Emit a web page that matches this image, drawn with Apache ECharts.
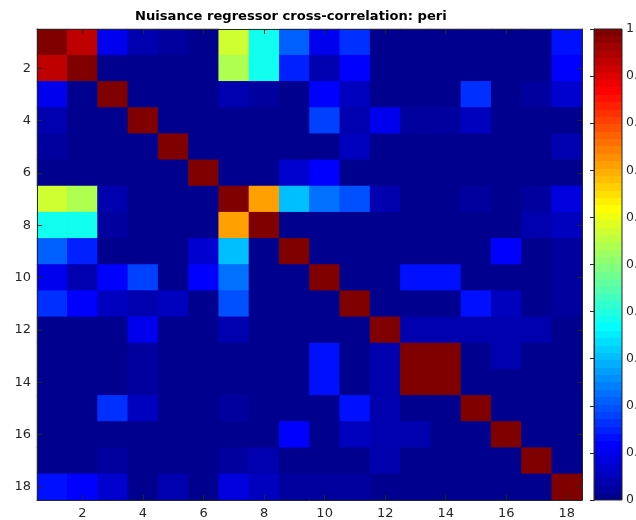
<!DOCTYPE html>
<html>
<head>
<meta charset="utf-8">
<script src="https://cdn.jsdelivr.net/npm/echarts@6/dist/echarts.min.js"></script>
<style>
  html, body { margin: 0; padding: 0; background: #ffffff; }
  #chart { width: 636px; height: 520px; }
</style>
</head>
<body>
<div id="chart"></div>
<script>
// Regressor indices (rows and columns of the matrix)
const regressors = ['1','2','3','4','5','6','7','8','9','10','11','12','13','14','15','16','17','18'];

// Cross-correlation matrix, one row per regressor
const row01 = [1.00, 0.93, 0.10, 0.035, 0.025, 0.012, 0.57, 0.39, 0.21, 0.105, 0.16, 0.01, 0.01, 0.01, 0.01, 0.01, 0.01, 0.13];
const row02 = [0.93, 1.00, 0.01, 0.01, 0.01, 0.01, 0.54, 0.39, 0.15, 0.04, 0.12, 0.01, 0.01, 0.01, 0.01, 0.01, 0.01, 0.12];
const row03 = [0.10, 0.01, 1.00, 0.01, 0.01, 0.01, 0.04, 0.03, 0.01, 0.12, 0.055, 0.01, 0.01, 0.01, 0.165, 0.015, 0.02, 0.075];
const row04 = [0.035, 0.01, 0.01, 1.00, 0.01, 0.01, 0.01, 0.01, 0.01, 0.185, 0.04, 0.095, 0.02, 0.03, 0.05, 0.01, 0.01, 0.01];
const row05 = [0.025, 0.01, 0.01, 0.01, 1.00, 0.01, 0.01, 0.01, 0.01, 0.01, 0.062, 0.01, 0.01, 0.01, 0.01, 0.01, 0.01, 0.035];
const row06 = [0.012, 0.01, 0.01, 0.01, 0.01, 1.00, 0.01, 0.01, 0.075, 0.12, 0.01, 0.01, 0.01, 0.01, 0.01, 0.01, 0.01, 0.01];
const row07 = [0.57, 0.54, 0.04, 0.01, 0.01, 0.01, 1.00, 0.71, 0.305, 0.23, 0.20, 0.045, 0.01, 0.01, 0.018, 0.01, 0.02, 0.08];
const row08 = [0.39, 0.39, 0.03, 0.01, 0.01, 0.01, 0.71, 1.00, 0.01, 0.01, 0.01, 0.01, 0.01, 0.01, 0.01, 0.01, 0.035, 0.062];
const row09 = [0.21, 0.15, 0.01, 0.01, 0.01, 0.075, 0.305, 0.01, 1.00, 0.01, 0.01, 0.01, 0.01, 0.01, 0.01, 0.11, 0.01, 0.018];
const row10 = [0.105, 0.04, 0.12, 0.185, 0.01, 0.12, 0.23, 0.01, 0.01, 1.00, 0.01, 0.01, 0.13, 0.13, 0.01, 0.01, 0.01, 0.03];
const row11 = [0.16, 0.12, 0.055, 0.04, 0.062, 0.01, 0.20, 0.01, 0.01, 0.01, 1.00, 0.01, 0.01, 0.01, 0.125, 0.055, 0.01, 0.025];
const row12 = [0.01, 0.01, 0.01, 0.095, 0.01, 0.01, 0.045, 0.01, 0.01, 0.01, 0.01, 1.00, 0.045, 0.045, 0.045, 0.045, 0.045, 0.01];
const row13 = [0.01, 0.01, 0.01, 0.02, 0.01, 0.01, 0.01, 0.01, 0.01, 0.13, 0.01, 0.045, 1.00, 1.00, 0.01, 0.04, 0.01, 0.01];
const row14 = [0.01, 0.01, 0.01, 0.03, 0.01, 0.01, 0.01, 0.01, 0.01, 0.13, 0.01, 0.045, 1.00, 1.00, 0.01, 0.01, 0.01, 0.01];
const row15 = [0.01, 0.01, 0.165, 0.05, 0.01, 0.01, 0.018, 0.01, 0.01, 0.01, 0.125, 0.045, 0.01, 0.01, 1.00, 0.01, 0.01, 0.01];
const row16 = [0.01, 0.01, 0.015, 0.01, 0.01, 0.01, 0.01, 0.01, 0.11, 0.01, 0.055, 0.045, 0.04, 0.01, 0.01, 1.00, 0.01, 0.01];
const row17 = [0.01, 0.01, 0.02, 0.01, 0.01, 0.01, 0.02, 0.035, 0.01, 0.01, 0.01, 0.045, 0.01, 0.01, 0.01, 0.01, 1.00, 0.01];
const row18 = [0.13, 0.12, 0.075, 0.01, 0.035, 0.01, 0.08, 0.062, 0.018, 0.03, 0.025, 0.01, 0.01, 0.01, 0.01, 0.01, 0.01, 1.00];

const matrixRows = [row01, row02, row03, row04, row05, row06, row07, row08, row09,
                    row10, row11, row12, row13, row14, row15, row16, row17, row18];

// Colour limits and colour-bar ticks
const colorMin = 0;
const colorMax = 1;
const colorbarStep = 0.1;

// 64-level "jet" colour map
function jetColormap(m) {
  const n = Math.ceil(m / 4);
  const u = [];
  for (let k = 1; k <= n; k++) u.push(k / n);
  for (let k = 1; k < n; k++) u.push(1);
  for (let k = n; k >= 1; k--) u.push(k / n);
  const g0 = Math.ceil(n / 2) - (m % 4 === 1 ? 1 : 0);
  const rgb = Array.from({ length: m }, () => [0, 0, 0]);
  for (let k = 0; k < u.length; k++) {
    const g = g0 + k;          // zero-based row indices
    const r = g + n;
    const b = g - n;
    if (g >= 0 && g < m) rgb[g][1] = u[k];
    if (r >= 0 && r < m) rgb[r][0] = u[k];
    if (b >= 0 && b < m) rgb[b][2] = u[k];
  }
  return rgb.map(c => 'rgb(' + c.map(v => Math.round(v * 255)).join(',') + ')');
}
const jet = jetColormap(64);

// Quantised colour pieces, one per colour-map entry
const pieces = jet.map((color, i) => {
  const lo = colorMin + (colorMax - colorMin) * i / jet.length;
  const hi = colorMin + (colorMax - colorMin) * (i + 1) / jet.length;
  return i === jet.length - 1 ? { gte: lo, lte: hi, color } : { gte: lo, lt: hi, color };
});

// Heatmap cells [column, row, value]
const cells = [];
matrixRows.forEach((row, r) => row.forEach((v, c) => cells.push([c, r, v])));

// Hard-edged vertical gradient for the colour bar (top = high)
const barStops = [];
for (let i = jet.length - 1; i >= 0; i--) {
  const top = (jet.length - 1 - i) / jet.length;
  const bottom = (jet.length - i) / jet.length;
  barStops.push({ offset: top, color: jet[i] });
  barStops.push({ offset: bottom, color: jet[i] });
}

const axisColor = '#262626';
const font = 'DejaVu Sans';
const everyOther = (idx) => idx % 2 === 1;

const chart = echarts.init(document.getElementById('chart'), null, { renderer: 'canvas' });

const catAxisBase = {
  type: 'category',
  data: regressors,
  gridIndex: 0,
  z: 10,
  boundaryGap: true,
  axisLine: { show: true, lineStyle: { color: axisColor, width: 1 } },
  axisTick: { show: true, inside: true, alignWithLabel: true, interval: everyOther, length: 5,
              lineStyle: { color: axisColor, width: 1 } },
  splitLine: { show: false },
  splitArea: { show: false }
};

chart.setOption({
  animation: false,
  backgroundColor: '#ffffff',
  title: {
    text: 'Nuisance regressor cross-correlation: peri',
    left: 135,
    top: 10,
    padding: 0,
    textStyle: { fontFamily: font, fontWeight: 'bold', fontSize: 13.1, color: '#000000' }
  },
  grid: [
    // image area; the lowest colour fills behind the cells so that their edges blend
    { left: 37, top: 29, width: 545, height: 471, containLabel: false, outerBoundsMode: 'none',
      show: true, borderWidth: 0, backgroundColor: jet[0] },
    { left: 594, top: 29, width: 28, height: 471, containLabel: false, outerBoundsMode: 'none',
      show: true, borderColor: axisColor, borderWidth: 1,
      backgroundColor: new echarts.graphic.LinearGradient(0, 0, 0, 1, barStops) }
  ],
  visualMap: {
    type: 'piecewise',
    show: false,
    seriesIndex: 0,
    dimension: 2,
    pieces: pieces
  },
  xAxis: [
    Object.assign({}, catAxisBase, {
      position: 'bottom',
      axisLabel: { show: true, interval: everyOther, color: axisColor, fontFamily: font, fontSize: 13, margin: 7 }
    }),
    Object.assign({}, catAxisBase, {
      position: 'top',
      axisLabel: { show: false }
    }),
    { type: 'value', gridIndex: 1, show: false, min: 0, max: 1 }
  ],
  yAxis: [
    Object.assign({}, catAxisBase, {
      position: 'left',
      inverse: true,
      axisLabel: { show: true, interval: everyOther, color: axisColor, fontFamily: font, fontSize: 13, margin: 6 }
    }),
    Object.assign({}, catAxisBase, {
      position: 'right',
      inverse: true,
      axisLabel: { show: false }
    }),
    {
      type: 'value', gridIndex: 1, position: 'right',
      min: colorMin, max: colorMax, interval: colorbarStep,
      z: 10,
      axisLine: { show: true, lineStyle: { color: axisColor, width: 1 } },
      axisTick: { show: true, inside: true, length: 4, lineStyle: { color: axisColor } },
      splitLine: { show: false },
      axisLabel: {
        color: axisColor, fontFamily: font, fontSize: 12.5, margin: 4,
        formatter: (v) => (v === 0 || v === 1) ? String(v) : v.toFixed(1)
      }
    }
  ],
  series: [{
    type: 'heatmap',
    xAxisIndex: 0,
    yAxisIndex: 0,
    data: cells,
    itemStyle: { borderWidth: 0 },
    emphasis: { disabled: true },
    label: { show: false }
  }]
});
</script>
</body>
</html>
